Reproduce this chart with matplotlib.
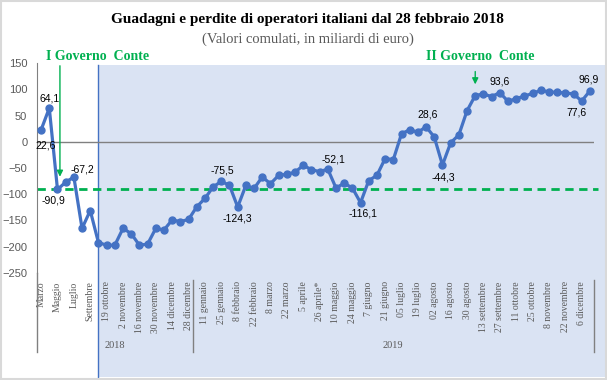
import matplotlib
matplotlib.use("Agg")
import matplotlib.pyplot as plt
import matplotlib.transforms as mtransforms
from matplotlib.patches import Rectangle
from matplotlib.lines import Line2D

# --- dati (miliardi di euro, cumulati) ---
valori = [22.6, 64.1, -90.9, -77, -67.2, -165, -131, -192, -197, -197,
          -165, -175, -197, -195, -165, -168, -149, -152, -148, -124,
          -108, -86, -75.5, -83, -124.3, -83, -89, -67, -80, -64,
          -62, -58, -45, -53, -57, -52.1, -88, -79, -88, -116.1,
          -74, -64, -32, -34, 15, 23, 18, 28.6, 9, -44.3,
          -2, 13, 59, 88, 91, 86, 93.6, 77, 82, 87,
          92, 98, 95, 94, 93, 91, 77.6, 96.9]

etichette_x = ["Marzo", "Maggio", "Luglio", "Settembre", "19 ottobre", "2 novembre",
               "16 novembre", "30 novembre", "14 dicembre", "28 dicembre",
               "11 gennaio", "25 gennaio", "8 febbraio", "22 febbraio", "8 marzo",
               "22 marzo", "5 aprile", "26 aprile*", "10 maggio", "24 maggio",
               "7 giugno", "21 giugno", "05 luglio", "19 luglio", "02 agosto",
               "16 agosto", "30 agosto", "13 settembre", "27 settembre", "11 ottobre",
               "25 ottobre", "8 novembre", "22 novembre", "6 dicembre"]

anni = ["2018", "2019"]
punti_per_anno = [19, 49]

# punti con etichetta del valore
idx_etichette = [0, 1, 2, 4, 22, 24, 35, 39, 47, 49, 56, 66, 67]

soglia = -90.9          # livello all'insediamento del I governo Conte
inizio_governo1 = 2.3   # posizione freccia I Governo Conte
inizio_governo2 = 53    # posizione freccia II Governo Conte
inizio_area = 6.95

# spostamenti (pixel) delle etichette rispetto al punto
spost = {0: (5, -16), 1: (0, 10), 2: (-4, -11), 4: (9, 8), 22: (1, 11),
         24: (0, -11), 35: (6, 10), 39: (2, -11), 47: (2, 12), 49: (1, -12),
         56: (0, 11), 66: (-5, -11), 67: (-1, 11)}

BLU = "#4472C4"
VERDE = "#00B050"
GRIGIO = "#595959"

W, H = 607, 380
fig = plt.figure(figsize=(W / 100, H / 100), dpi=100)
ax = fig.add_axes([37 / W, 107 / H, 557 / W, 210 / H])
ax.set_facecolor("none")

n = len(valori)
x = list(range(n))
ax.set_xlim(-0.5, n - 0.5)
ax.set_ylim(-250, 150)

blend = mtransforms.blended_transform_factory(ax.transData, fig.transFigure)

# area azzurra
ax.add_patch(Rectangle((inizio_area, 3.5 / H), 100, (315 - 3.5) / H, transform=blend,
                       facecolor="#DAE3F3", edgecolor="none", clip_on=False, zorder=0))
ax.add_line(Line2D([inizio_area, inizio_area], [2 / H, 315 / H], transform=blend,
                   color=BLU, lw=1, clip_on=False, zorder=1))

ax.axhline(0, color="#808080", lw=1, zorder=1)
ax.plot([-0.5, n], [soglia, soglia], color=VERDE, lw=2, ls=(0, (3, 2)),
        zorder=2, clip_on=False)

ax.plot(x, valori, color=BLU, lw=2.3, marker="o", ms=5, zorder=3)

for i in idx_etichette:
    testo = f"{valori[i]:.1f}".replace(".", ",")
    ax.annotate(testo, (i, valori[i]), xytext=spost[i], textcoords="offset pixels",
                ha="center", va="center", fontsize=7.5, family="Liberation Sans",
                color="black", zorder=4)

# frecce governi
ax.annotate("", xy=(inizio_governo1, -72), xytext=(inizio_governo1, 150),
            arrowprops=dict(arrowstyle="-|>", color=VERDE, lw=1, mutation_scale=9),
            annotation_clip=False)
ax.annotate("", xy=(inizio_governo2, 104), xytext=(inizio_governo2, 139),
            arrowprops=dict(arrowstyle="-|>", color=VERDE, lw=1, mutation_scale=9),
            annotation_clip=False)
fig.text(98 / W, 1 - 56 / H, "I Governo  Conte", color=VERDE, fontsize=10,
         fontweight="bold", family="Liberation Serif", ha="center", va="center")
fig.text(480 / W, 1 - 56 / H, "II Governo  Conte", color=VERDE, fontsize=10,
         fontweight="bold", family="Liberation Serif", ha="center", va="center")

# assi
for s in ["top", "right", "bottom"]:
    ax.spines[s].set_visible(False)
ax.spines["left"].set_color("#808080")
ax.set_yticks(range(-250, 151, 50))
ax.tick_params(axis="y", length=0, pad=7, labelsize=8, labelcolor=GRIGIO)
for t in ax.get_yticklabels():
    t.set_family("Liberation Sans")

ax.set_xticks(range(0, n, 2))
ax.set_xticklabels(etichette_x, rotation=90, va="top", ha="center",
                   fontsize=7, family="Liberation Serif", color=GRIGIO)
ax.tick_params(axis="x", length=0, pad=6)

# separatori e anni
confini = [-0.5]
for k in punti_per_anno:
    confini.append(confini[-1] + k)
ax.add_line(Line2D([confini[0]] * 2, [28 / H, 107 / H], transform=blend,
                   color="#808080", lw=1, clip_on=False))
for c in confini[1:]:
    ax.add_line(Line2D([c, c], [28 / H, 100 / H], transform=blend,
                       color="#808080", lw=1, clip_on=False))
for a, sx, dx in zip(anni, confini[:-1], confini[1:]):
    ax.text((sx + dx) / 2, 34 / H, a, transform=blend, ha="center", va="center",
            fontsize=7.5, family="Liberation Serif", color=GRIGIO)

# titoli
fig.text(0.507, 1 - 20 / H, "Guadagni e perdite di operatori italiani dal 28 febbraio 2018",
         ha="center", va="center", fontsize=11, fontweight="bold", family="Liberation Serif")
fig.text(0.507, 1 - 39 / H, "(Valori comulati, in miliardi di euro)",
         ha="center", va="center", fontsize=10.5, family="Liberation Serif", color=GRIGIO)

fig.add_artist(Rectangle((0.001, 0.002), 0.997, 0.995, transform=fig.transFigure,
                         facecolor="none", edgecolor="#D9D9D9", lw=1.5))

fig.savefig("out.png", dpi=100)
